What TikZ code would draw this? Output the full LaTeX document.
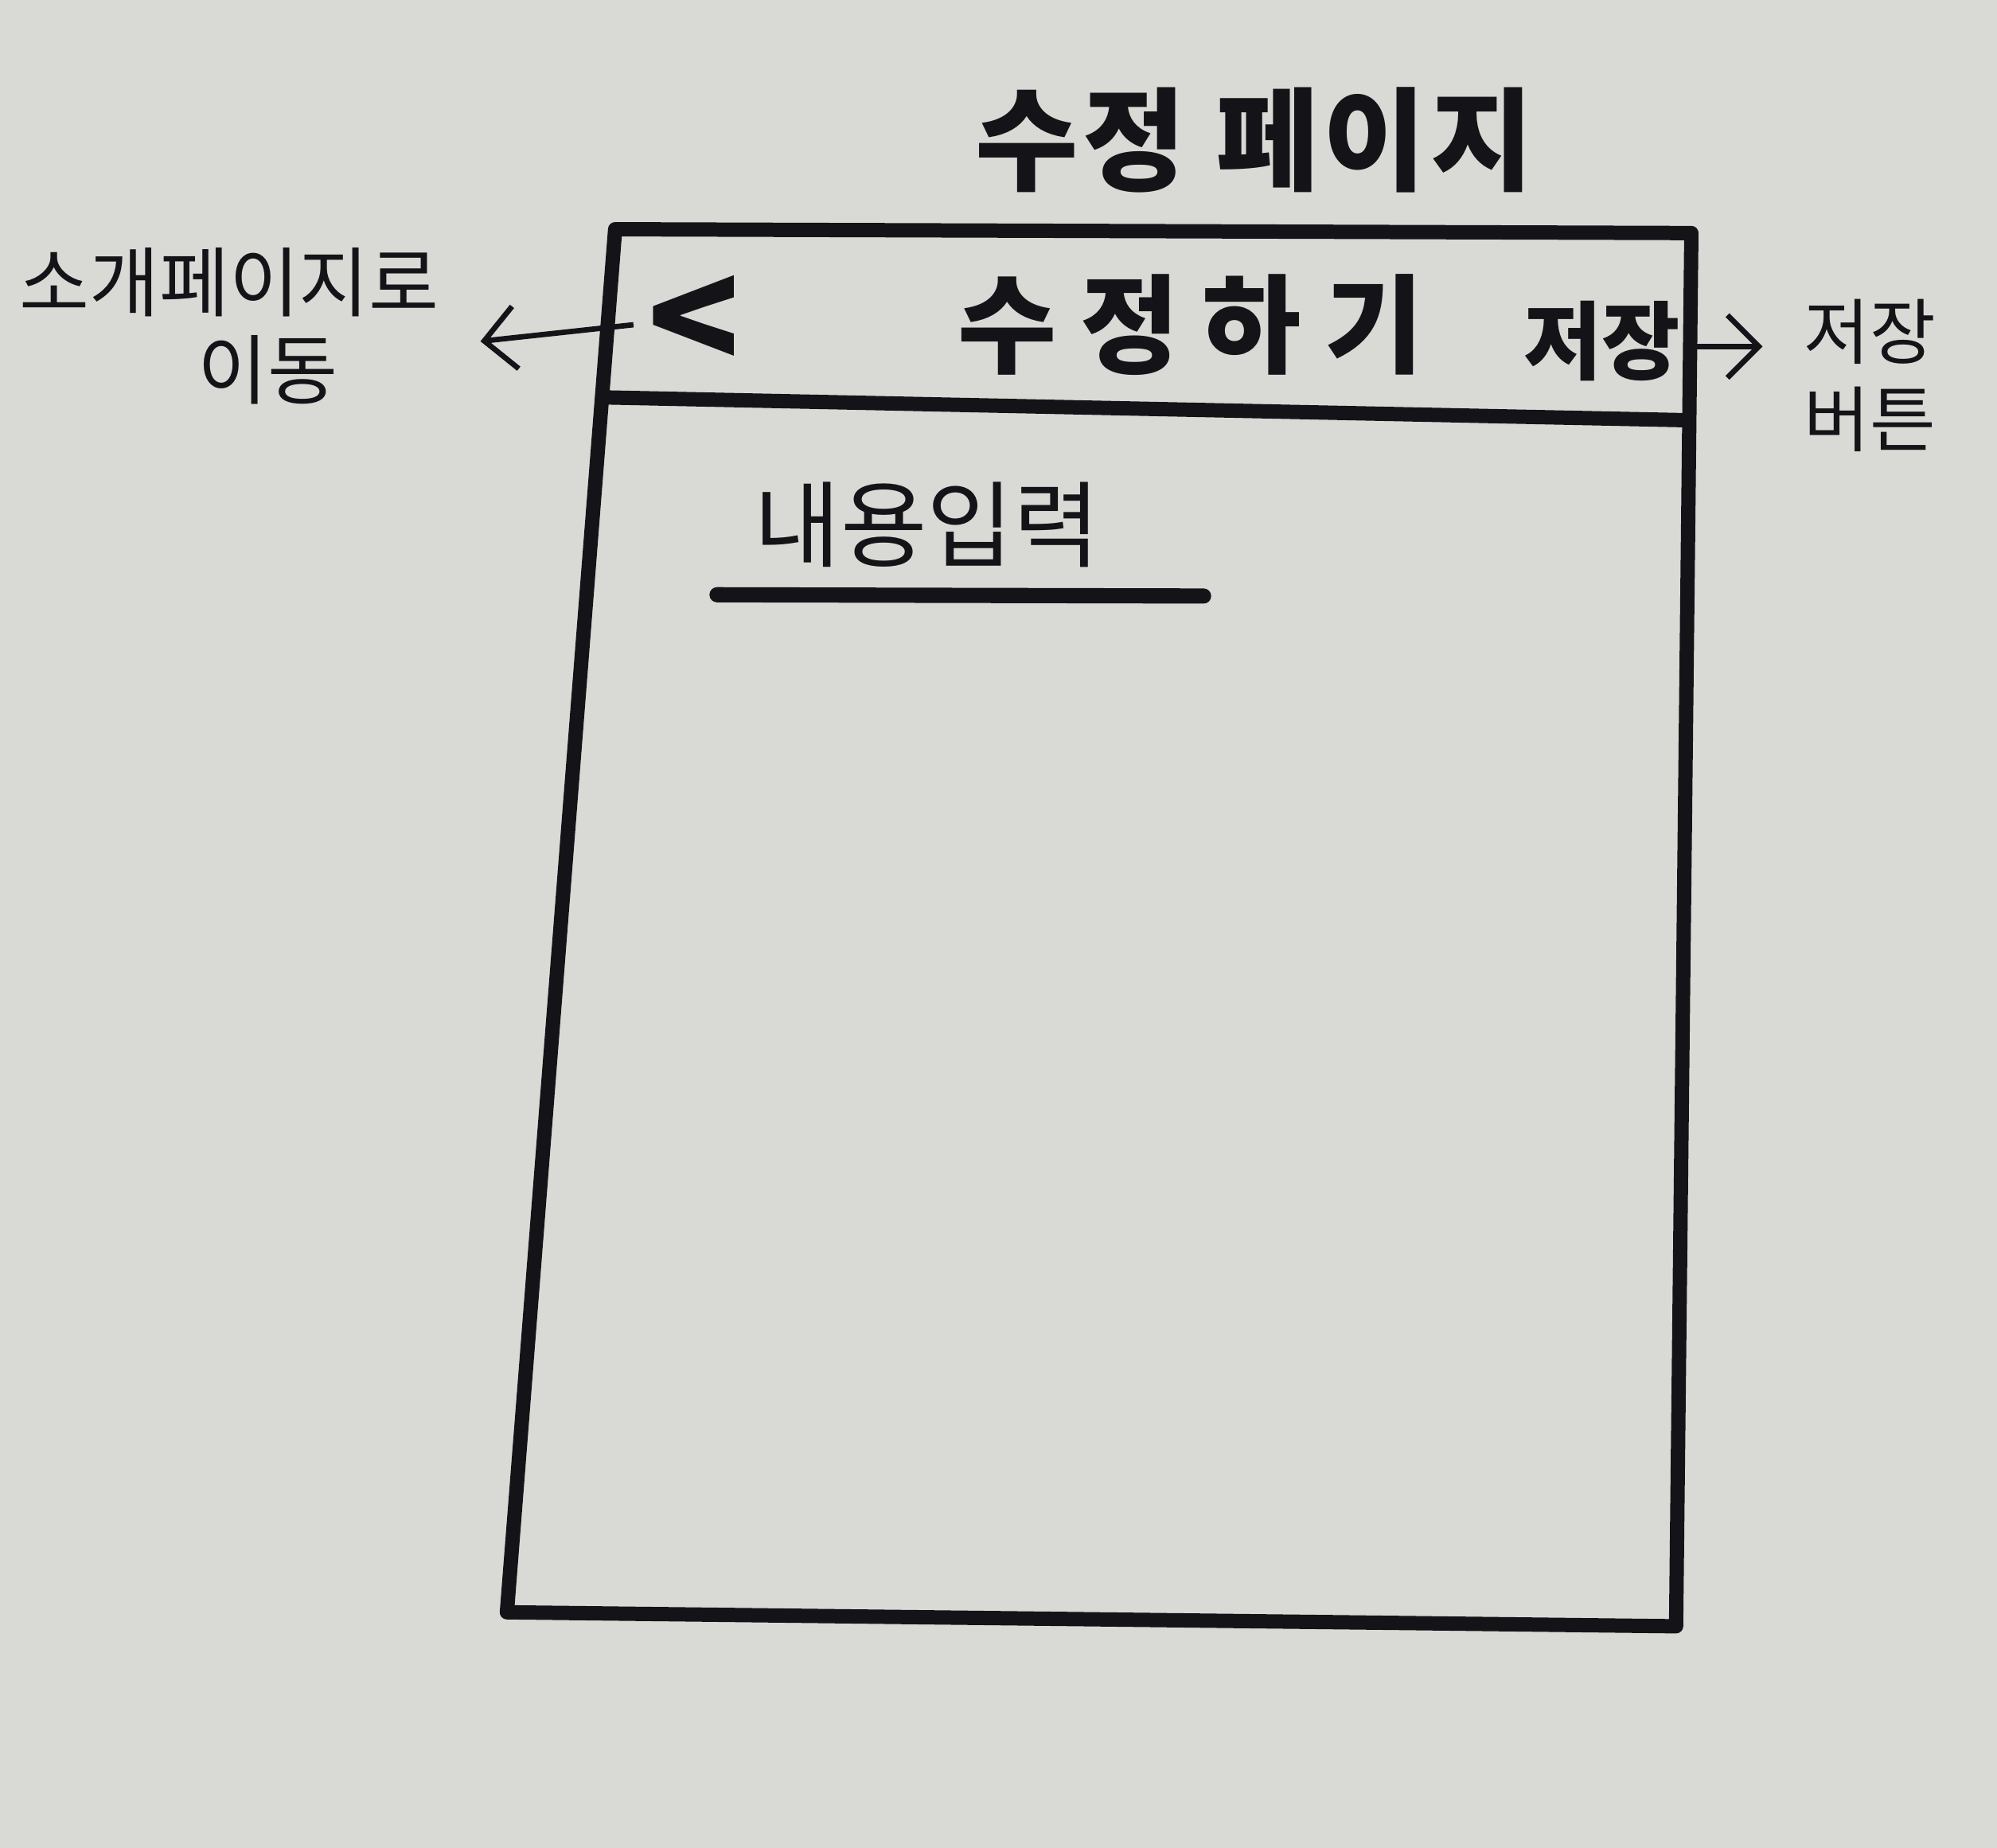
\documentclass[tikz,border=0pt]{standalone}
\usepackage{fontspec}
\setmainfont{Noto Sans CJK KR}
\usepackage{tikz}
\usetikzlibrary{arrows.meta}
\definecolor{paper}{RGB}{217,218,213}
\definecolor{ink}{RGB}{20,20,24}

\begin{document}
\begin{tikzpicture}[pen/.style={draw=ink, line width=3.2pt, line cap=round, line join=round},
	main node/.style={text=ink, font=\bfseries\fontsize{24}{28}\selectfont, inner sep=1pt},
	note node/.style={text=ink, font=\fontsize{17}{19.5}\selectfont, align=center, inner sep=1pt},
	link/.style={draw=ink, line width=1.2pt, -{Straight Barb[length=7pt, width=14pt]}}]
			% Paper
			\fill[paper] (0,0) rectangle (15.68,-14.51);
			\useasboundingbox (0,0) rectangle (15.68,-14.51);
			
			% Frame and header bar
			\draw[pen] (4.83,-1.80) -- (13.28,-1.83) -- (13.16,-12.77) -- (3.98,-12.66) -- cycle;
			\draw[pen] (4.73,-3.12) -- (13.26,-3.30);
			
			% Nodes
			\node [main node, font=\bfseries\fontsize{25}{28}\selectfont\addfontfeature{LetterSpace=4}] (1) at (9.85,-1.10) {수정 페이지};
			\node [main node, font=\bfseries\fontsize{34}{36}\selectfont] (2) at (5.45,-2.55) {<};
			\node [main node, font=\bfseries\fontsize{24}{28}\selectfont\addfontfeature{LetterSpace=22}] (3) at (9.35,-2.55) {수정하기};
			\node [main node, font=\bfseries\fontsize{19}{22}\selectfont] (4) at (12.58,-2.68) {저장};
			\node [note node] (5) at (1.80,-2.56) {소개페이지로\\\hspace*{0.6cm}이동};
			\node [note node, font=\fontsize{16}{19.5}\selectfont] (6) at (14.68,-2.95) {저장\\버튼};
			\node [note node, font=\fontsize{21}{24}\selectfont] (7) at (7.28,-4.12) {내용입력};
			
			% Input underline
			\draw[pen, line width=3.4pt] (5.63,-4.67) -- (9.45,-4.68);
			
			% Arrows
			\coordinate (r) at (13.30,-2.72);
			\draw[link] ([xshift=-2pt]2.west) -- ([xshift=8pt, yshift=-0.12cm]5.east);
			\draw[link] (r) -- ([xshift=-8pt]r -| 6.west);
			
		\end{tikzpicture}
\end{document}
